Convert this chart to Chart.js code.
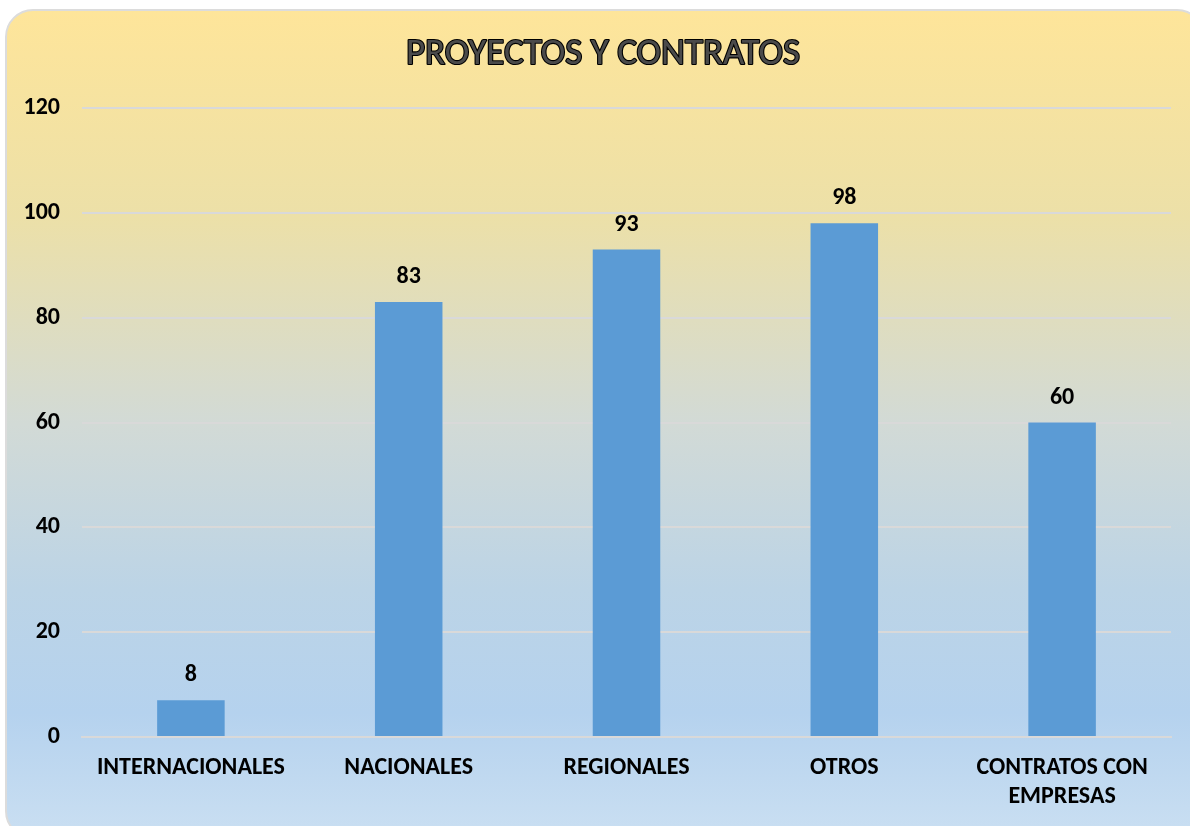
<!DOCTYPE html>
<html>
<head>
<meta charset="utf-8">
<script src="https://cdn.jsdelivr.net/npm/chart.js@4.4.1/dist/chart.umd.min.js"></script>
<style>
  html, body { margin: 0; padding: 0; width: 1190px; height: 826px; overflow: hidden; background: #ffffff; }
  #frame {
    position: absolute; left: 5px; top: 9px; width: 1200px; height: 830px;
    border: 2px solid #dcdcdc; border-radius: 28px; box-sizing: border-box;
    background: linear-gradient(to bottom, #fee59a 0%, #ece0a8 25%, #d2dad6 50%, #bcd4e6 70%, #b5d2ee 85%, #cadff2 100%);
  }
  #wrap { position: absolute; left: 0; top: 0; width: 1190px; height: 826px; }
</style>
</head>
<body>
<div id="frame"></div>
<div id="wrap"><canvas id="c" width="1190" height="826"></canvas></div>
<script>
const titleText = "PROYECTOS Y CONTRATOS";
const categories = ["INTERNACIONALES", "NACIONALES", "REGIONALES", "OTROS", ["CONTRATOS CON", "EMPRESAS"]];
const barValues = [7, 83, 93, 98, 60];
const valueLabels = ["8", "83", "93", "98", "60"];
const yTicks = [0, 20, 40, 60, 80, 100, 120];

const FONT = "Carlito, Lato, 'Open Sans', sans-serif";

const titlePlugin = {
  id: 'outlinedTitle',
  afterDraw(chart) {
    const ctx = chart.ctx;
    ctx.save();
    ctx.font = "37px " + FONT;
    ctx.textAlign = 'center';
    ctx.textBaseline = 'middle';
    ctx.lineJoin = 'round';
    ctx.lineWidth = 2.2;
    ctx.strokeStyle = '#000000';
    ctx.strokeText(titleText, 603, 55);
    ctx.fillStyle = '#4a4a4a';
    ctx.fillText(titleText, 603, 55);
    ctx.restore();
  }
};

const valueLabelPlugin = {
  id: 'valueLabels',
  afterDatasetsDraw(chart) {
    const ctx = chart.ctx;
    const meta = chart.getDatasetMeta(0);
    ctx.save();
    ctx.font = "bold 24px " + FONT;
    ctx.fillStyle = '#000000';
    ctx.textAlign = 'center';
    ctx.textBaseline = 'middle';
    meta.data.forEach((bar, i) => {
      ctx.fillText(valueLabels[i], bar.x, bar.y - 25);
    });
    ctx.restore();
  }
};

new Chart(document.getElementById('c'), {
  type: 'bar',
  data: {
    labels: categories,
    datasets: [{
      data: barValues,
      backgroundColor: '#5b9bd5',
      borderWidth: 0,
      barPercentage: 0.31,
      categoryPercentage: 1.0
    }]
  },
  options: {
    responsive: false,
    animation: false,
    devicePixelRatio: 1,
    layout: { padding: { top: 108, right: 19, bottom: 0, left: 0 } },
    plugins: { legend: { display: false }, tooltip: { enabled: false }, title: { display: false } },
    scales: {
      x: {
        grid: { display: false, drawTicks: false },
        border: { display: true, color: '#d9d9d9', width: 2 },
        ticks: {
          color: '#000000', padding: 17, maxRotation: 0, autoSkip: false,
          font: { family: FONT, size: 24, weight: 'bold', lineHeight: 1.2 }
        },
        afterFit(scale) { scale.height = 89; }
      },
      y: {
        min: 0, max: 120,
        afterBuildTicks(scale) { scale.ticks = yTicks.map(v => ({ value: v })); },
        grid: { color: '#d9d9d9', lineWidth: 2, drawTicks: false },
        border: { display: false },
        ticks: {
          color: '#000000', padding: 22,
          font: { family: FONT, size: 24, weight: 'bold' }
        },
        afterFit(scale) { scale.width = 82; }
      }
    }
  },
  plugins: [titlePlugin, valueLabelPlugin]
});
</script>
</body>
</html>
